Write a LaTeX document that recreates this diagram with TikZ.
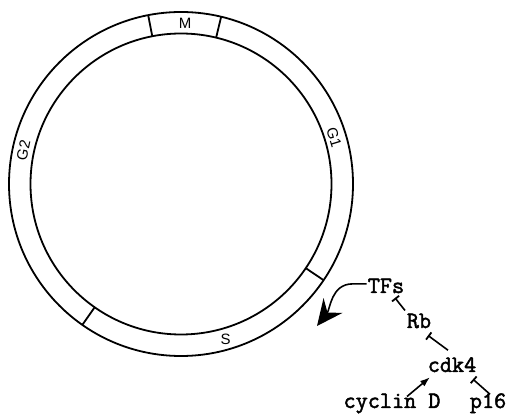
\documentclass[tikz,border=0pt]{standalone}
\usepackage{fontspec}
\newfontfamily\biofont[FakeBold=2]{Latin Modern Mono}
\newfontfamily\phasefont{Liberation Sans}
\usetikzlibrary{arrows.meta}

\tikzset{
  ring/.style={line width=1.8pt},
  phase/.style={font=\phasefont\fontsize{15}{17}\selectfont, inner sep=0pt},
  bio/.style={font=\biofont\fontsize{23.5}{26}\selectfont, inner sep=1pt, anchor=base},
  inhib/.style={line width=1.6pt, -{Bar[width=9pt,line width=1.8pt]}},
  act/.style={line width=1.6pt, -{Latex[length=10pt,width=7pt]}},
  bigarrow/.style={line width=1.6pt, -{Stealth[length=26pt,width=24pt,inset=9pt]}}
}

\begin{document}
\begin{tikzpicture}[x=1pt,y=1pt]
  \useasboundingbox (0,0) rectangle (508,417);
  \coordinate (ctr) at (181,233);

  % cell cycle ring
  \draw[ring] (ctr) circle (172);
  \draw[ring] (ctr) circle (150.5);
  \foreach \a in {101,76.5,-34,235}
    \draw[ring] ([shift={(\a:150.5)}]ctr) -- ([shift={(\a:172)}]ctr);

  \node (m)  at ([shift={(88.5:161)}]ctr) [phase] {M};
  \node (g1) at ([shift={(17:160)}]ctr) [phase, rotate=-73] {G1};
  \node (g2) at ([shift={(168:161)}]ctr) [phase, rotate=78] {G2};
  \node (s)  at ([shift={(-74:162)}]ctr) [phase] {S};

  % pathway
  \node (tfs)   at (386,124) [bio] {TFs};
  \node (rb)    at (419,89)  [bio] {Rb};
  \node (cdk)   at (452,45)  [bio] {cdk4};
  \node (cycd)  at (392,9)   [bio] {cyclin D};
  \node (p16)   at (488,9)   [bio] {p16};
  \coordinate (tip) at (317,91);

  \draw[bigarrow] ([yshift=2pt]tfs.west) -- ++(-14,0) to[out=180,in=52] (tip);
  \draw[inhib] ([shift={(-14,10.5)}]rb.center) -- ([shift={(9,-12)}]tfs.center);
  \draw[inhib] ([shift={(-4,14.5)}]cdk.center) -- ([shift={(9,-14.5)}]rb.center);
  \draw[inhib] ([shift={(2,9)}]p16.center) -- ([shift={(21,-14.5)}]cdk.center);
  \draw[act] ([shift={(15,7)}]cycd.center) -- ([shift={(-22,-12.5)}]cdk.center);
\end{tikzpicture}
\end{document}
